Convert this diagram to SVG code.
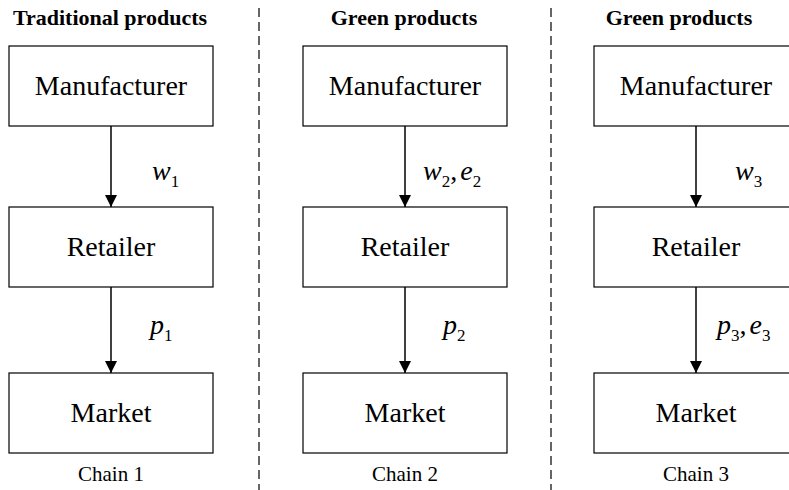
<svg xmlns="http://www.w3.org/2000/svg" width="789" height="490" viewBox="0 0 789 490">
<style>
.box{fill:#fff;stroke:#000;stroke-width:1.2}
.bt{font-family:"Liberation Serif",serif;font-size:28px;text-anchor:middle;fill:#000}
.title{font-family:"Liberation Serif",serif;font-size:22px;font-weight:bold;text-anchor:middle}
.cap{font-family:"Liberation Serif",serif;font-size:21px;text-anchor:middle}
.lab{font-family:"Liberation Serif",serif;font-size:28px;font-style:italic}
.sub{font-style:normal;font-size:17px}
.nrm{font-style:normal}
.arr{stroke:#000;stroke-width:1.5;fill:none;marker-end:url(#ah)}
.dash{stroke:#000;stroke-width:1.2;stroke-dasharray:9,5}
</style>
<defs>
<marker id="ah" viewBox="0 0 12 12" refX="12" refY="6" markerWidth="12" markerHeight="12" markerUnits="userSpaceOnUse" orient="auto">
<path d="M0,0 L12,6 L0,12 z" fill="#000"/>
</marker>
</defs>
<rect width="789" height="490" fill="#fff"/>
<line class="dash" x1="259" y1="8" x2="259" y2="490"/>
<line class="dash" x1="551" y1="8" x2="551" y2="490"/>
<text class="title" x="110" y="25">Traditional products</text>
<text class="title" x="404" y="25">Green products</text>
<text class="title" x="679" y="25">Green products</text>
<g id="m1"><rect class="box" x="9" y="46" width="204" height="80"/><text class="bt" x="111" y="95">Manufacturer</text></g>
<g id="r1"><rect class="box" x="9" y="207" width="204" height="80"/><text class="bt" x="111" y="256">Retailer</text></g>
<g id="k1"><rect class="box" x="9" y="373" width="204" height="80"/><text class="bt" x="111" y="422">Market</text></g>
<g id="m2"><rect class="box" x="303" y="46" width="204" height="80"/><text class="bt" x="405" y="95">Manufacturer</text></g>
<g id="r2"><rect class="box" x="303" y="207" width="204" height="80"/><text class="bt" x="405" y="256">Retailer</text></g>
<g id="k2"><rect class="box" x="303" y="373" width="204" height="80"/><text class="bt" x="405" y="422">Market</text></g>
<g id="m3"><rect class="box" x="594" y="46" width="204" height="80"/><text class="bt" x="696" y="95">Manufacturer</text></g>
<g id="r3"><rect class="box" x="594" y="207" width="204" height="80"/><text class="bt" x="696" y="256">Retailer</text></g>
<g id="k3"><rect class="box" x="594" y="373" width="204" height="80"/><text class="bt" x="696" y="422">Market</text></g>
<text class="cap" x="111" y="481">Chain 1</text>
<text class="cap" x="405" y="481">Chain 2</text>
<text class="cap" x="696" y="481">Chain 3</text>
<g id="connectors">
<line class="arr" x1="111" y1="126" x2="111" y2="207"/>
<line class="arr" x1="111" y1="287" x2="111" y2="373"/>
<line class="arr" x1="405" y1="126" x2="405" y2="207"/>
<line class="arr" x1="405" y1="287" x2="405" y2="373"/>
<line class="arr" x1="696" y1="126" x2="696" y2="207"/>
<line class="arr" x1="696" y1="287" x2="696" y2="373"/>
</g>
<text class="lab" x="152" y="180">w<tspan class="sub" dy="7">1</tspan></text>
<text class="lab" x="423" y="180">w<tspan class="sub" dy="7">2</tspan><tspan class="nrm" dy="-7">,</tspan><tspan dx="3">e</tspan><tspan class="sub" dy="7">2</tspan></text>
<text class="lab" x="735" y="180">w<tspan class="sub" dy="7">3</tspan></text>
<text class="lab" x="150" y="334">p<tspan class="sub" dy="7">1</tspan></text>
<text class="lab" x="443" y="334">p<tspan class="sub" dy="7">2</tspan></text>
<text class="lab" x="717" y="334">p<tspan class="sub" dy="7">3</tspan><tspan class="nrm" dy="-7">,</tspan><tspan dx="3">e</tspan><tspan class="sub" dy="7">3</tspan></text>
</svg>
